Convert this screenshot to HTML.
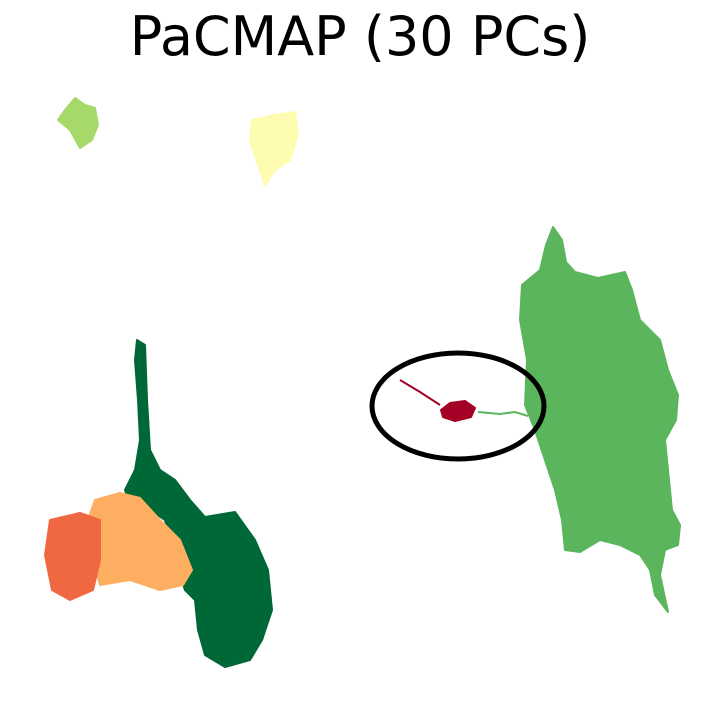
<!DOCTYPE html>
<html><head><meta charset="utf-8"><style>
html,body{margin:0;padding:0;background:#fff;}
svg{display:block;}
</style></head><body>
<svg id="chart" width="720" height="720" viewBox="0 0 720 720" xmlns="http://www.w3.org/2000/svg">
<text x="360" y="55" text-anchor="middle" font-family="DejaVu Sans, Liberation Sans, sans-serif" font-size="54" fill="#000">PaCMAP (30 PCs)</text>
<g id="clusters"></g>
</svg>
<script>
// cluster names, colors, and outline vertices in embedding coordinates (domain 0..720)
const clusterNames = ["green-right","dark-green","light-orange","red-orange","light-green","light-yellow","dark-red"];
const clusterColors = ["#5ab55c","#006837","#fdae61","#f06842","#a6d96a","#fefcb0","#a50026"];
const greenRight = [[553,227],[562,240],[566,262],[575,272],[598,278],[625,272],[632,290],[640,320],[660,340],[668,370],[678,395],[676,420],[665,440],[668,470],[672,510],[680,525],[678,545],[665,550],[660,575],[668,612],[655,595],[650,570],[640,555],[620,545],[600,540],[580,552],[565,550],[562,520],[555,490],[545,460],[535,430],[525,405],[527,360],[520,320],[522,285],[540,270],[546,245]];
const darkGreen = [[137,340],[145,345],[147,400],[150,450],[160,470],[175,480],[190,500],[205,517],[235,512],[255,540],[268,570],[272,610],[262,640],[250,660],[225,667],[205,655],[198,630],[195,600],[185,590],[175,560],[165,520],[150,510],[130,505],[125,490],[135,470],[140,440],[138,400],[135,360]];
const lightOrange = [[95,500],[120,493],[140,498],[160,520],[180,540],[192,570],[183,585],[160,590],[130,580],[100,585],[90,550],[88,520]];
const redOrange = [[50,520],[80,513],[100,520],[100,560],[93,590],[70,600],[52,590],[45,555]];
const lightGreen = [[75,98],[85,105],[95,108],[98,125],[92,140],[80,148],[70,130],[58,120],[65,110]];
const lightYellow = [[252,120],[275,115],[295,112],[298,135],[290,160],[275,170],[265,185],[258,165],[250,140]];
const darkRed = [[441,410],[450,403],[465,401],[475,408],[471,417],[455,421],[443,417]];
const darkRedTrail = [[400,380],[420,392],[440,405]];
const greenTrail = [[478,412],[500,414],[515,412],[528,416]];
const highlight = {cx:458, cy:406, rx:86, ry:53};

const xs = v => v * 720 / 720;
const ys = v => v * 720 / 720;
const g = document.getElementById('clusters');
const NS = "http://www.w3.org/2000/svg";
const polys = [greenRight, darkGreen, lightOrange, redOrange, lightGreen, lightYellow, darkRed];
polys.forEach((pts, i) => {
  const p = document.createElementNS(NS, 'polygon');
  p.setAttribute('points', pts.map(q => xs(q[0]) + ',' + ys(q[1])).join(' '));
  p.setAttribute('fill', clusterColors[i]);
  p.setAttribute('stroke', clusterColors[i]);
  p.setAttribute('stroke-width', '2');
  p.setAttribute('stroke-linejoin', 'round');
  
  
  g.appendChild(p);
});
[[darkRedTrail, "#a50026", "dark-red-trail"], [greenTrail, "#5ab55c", "green-trail"]].forEach(t => {
  const l = document.createElementNS(NS, 'polyline');
  l.setAttribute('points', t[0].map(q => xs(q[0]) + ',' + ys(q[1])).join(' '));
  l.setAttribute('fill', 'none');
  l.setAttribute('stroke', t[1]);
  l.setAttribute('stroke-width', '2');
  
  
  g.appendChild(l);
});
const e = document.createElementNS(NS, 'ellipse');
e.setAttribute('cx', xs(highlight.cx));
e.setAttribute('cy', ys(highlight.cy));
e.setAttribute('rx', highlight.rx);
e.setAttribute('ry', highlight.ry);
e.setAttribute('fill', 'none');
e.setAttribute('stroke', '#000');
e.setAttribute('stroke-width', '5');


g.appendChild(e);
</script>
</body></html>
